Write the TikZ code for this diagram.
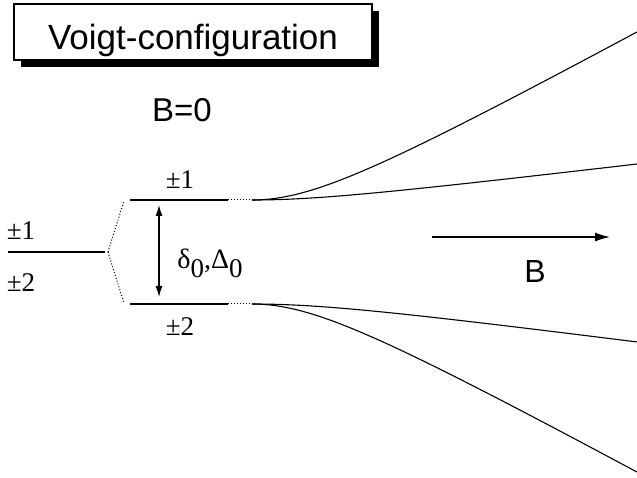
\documentclass[tikz,border=0pt]{standalone}
\usepackage{fontspec}
\setmainfont{Liberation Serif}
\setsansfont{Liberation Sans}
\usetikzlibrary{arrows.meta,shadows}
\begin{document}
\begin{tikzpicture}[x=1pt,y=-1pt,line width=1.1pt,
  dotl/.style={dotted,line width=1pt},
  pm/.style={font=\fontsize{27}{27}\selectfont,inner sep=0pt},
  sanslbl/.style={font=\sffamily\fontsize{33}{33}\selectfont,inner sep=0pt,anchor=base},
  titlebox/.style={draw,fill=white,line width=1.3pt,font=\sffamily\fontsize{35}{35}\selectfont,
     inner sep=0pt,anchor=base,text height=46pt,text depth=10pt,minimum width=358pt,
     drop shadow={shadow xshift=7pt,shadow yshift=-7pt,opacity=1,fill=black}},
  arr/.style={line width=1.3pt}]
\useasboundingbox (0,0) rectangle (637,478);
% title
\node[titlebox] (title) at (193,50) {Voigt-configuration};
\node[sanslbl] (bzero) at (182,122) {B=0};
% left degenerate level
\coordinate (L0) at (8,252);
\coordinate (L1) at (105,252);
\coordinate (S) at (108,252);
\coordinate (Ua) at (124,201);
\coordinate (Da) at (124,303);
\coordinate (U0) at (130,200);
\coordinate (U1) at (228,200);
\coordinate (U2) at (252,200);
\coordinate (D0) at (130,304);
\coordinate (D1) at (228,304);
\coordinate (D2) at (252,304);
\draw (L0) -- (L1);
\draw[dotl] (S) -- (Ua);
\draw[dotl] (S) -- (Da);
\draw (U0) -- (U1);
\draw[dotl] (U1) -- (U2);
\draw (D0) -- (D1);
\draw[dotl] (D1) -- (D2);
% branches
\draw plot[domain=0:3.85,samples=80,smooth] ({252+100*\x},{200-55*(sqrt(0.898*0.898+\x*\x)-0.898)});
\draw plot[domain=0:3.85,samples=80,smooth] ({252+100*\x},{200-12*(sqrt(0.97*0.97+\x*\x)-0.97)});
\draw plot[domain=0:3.85,samples=80,smooth] ({252+100*\x},{304+13*(sqrt(1.078*1.078+\x*\x)-1.078)});
\draw plot[domain=0:3.85,samples=80,smooth] ({252+100*\x},{304+55*(sqrt(0.898*0.898+\x*\x)-0.898)});
% splitting arrow
\coordinate (A1) at (159,205);
\coordinate (A2) at (159,297);
\draw[arr,{Latex[length=11pt,width=7pt]}-{Latex[length=11pt,width=7pt]}] (A1) -- (A2);
\node[inner sep=0pt,font=\fontsize{28}{28}\selectfont] (delta) at (210,263)
  {δ\raisebox{-9pt}{\fontsize{27}{27}\selectfont 0},Δ\raisebox{-9pt}{\fontsize{27}{27}\selectfont 0}};
% labels
\node[pm] (lp1) at (21,231) {±1};
\node[pm] (lp2) at (21,283) {±2};
\node[pm] (up1) at (180,180) {±1};
\node[pm] (dn2) at (180,327) {±2};
% field arrow
\coordinate (B1) at (432,237);
\coordinate (B2) at (610,237);
\draw[arr,-{Latex[length=15pt,width=9pt]}] (B1) -- (B2);
\node[sanslbl,font=\sffamily\fontsize{32}{32}\selectfont] (blbl) at (535,283) {B};
\end{tikzpicture}
\end{document}
